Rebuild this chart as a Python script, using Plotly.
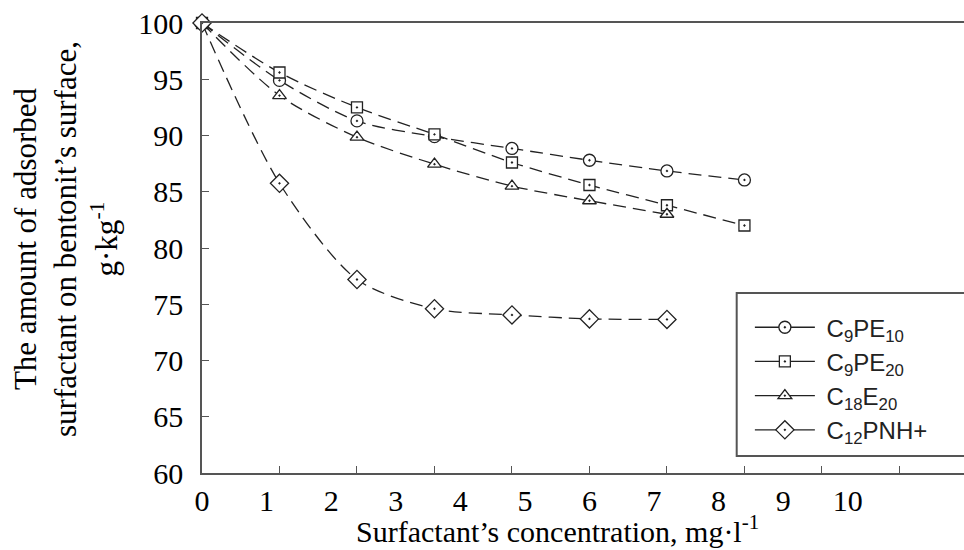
import plotly.graph_objects as go

# ---- data ----
conc = [0, 1.2, 2.4, 3.6, 4.8, 6.0, 7.2, 8.4]
c9pe10 = [100, 94.9, 91.3, 89.9, 88.85, 87.8, 86.85, 86.05]
c9pe20 = [100, 95.6, 92.5, 90.1, 87.6, 85.6, 83.8, 82.0]
c18e20 = [100, 93.55, 89.85, 87.45, 85.5, 84.2, 83.0]
c12pnh = [100, 85.75, 77.2, 74.6, 74.05, 73.7, 73.65]

series_names = ["C<sub>9</sub>PE<sub>10</sub>", "C<sub>9</sub>PE<sub>20</sub>",
                "C<sub>18</sub>E<sub>20</sub>", "C<sub>12</sub>PNH+"]
series_values = [c9pe10, c9pe20, c18e20, c12pnh]
symbols = ["circle-dot", "square-dot", "triangle-up-dot", "diamond-dot"]
marker_sizes = [12, 11, 12, 14]

x_label_vals = [0, 1, 2, 3, 4, 5, 6, 7, 8, 9, 10]
x_label_text = ["0", "1", "2", "3", "4", "5", "6", "7", "8", "9", "10"]
x_tick_marks = [1.2, 2.4, 3.6, 4.8, 6.0, 7.2, 8.4, 9.6, 10.8]
y_ticks = [60, 65, 70, 75, 80, 85, 90, 95, 100]

INK = "#222222"
AXIS = "#555555"
SERIF = "Liberation Serif"
SANS = "Liberation Sans"

fig = go.Figure()

# data traces (dashed, smoothed)
for name, vals, sym, ms in zip(series_names, series_values, symbols, marker_sizes):
    fig.add_trace(go.Scatter(
        x=conc[:len(vals)], y=vals, mode="lines+markers", name=name,
        showlegend=False, cliponaxis=False,
        line=dict(color=INK, width=1.3, dash="13px,7px", shape="spline", smoothing=0.8),
        marker=dict(symbol=sym, size=ms, color="white",
                    line=dict(color=INK, width=1.3)),
    ))

# legend entries (solid line samples)
for name, sym, ms in zip(series_names, symbols, marker_sizes):
    fig.add_trace(go.Scatter(
        x=[None], y=[None], mode="lines+markers", name="\u00a0" + name,
        line=dict(color=INK, width=1.3),
        marker=dict(symbol=sym, size=ms, color="white",
                    line=dict(color=INK, width=1.3)),
    ))

fig.update_layout(
    width=964, height=550, autosize=False,
    margin=dict(l=202, r=0, t=23, b=77),
    paper_bgcolor="white", plot_bgcolor="white",
    showlegend=True,
    legend=dict(x=0.719, y=0.373, xanchor="left", yanchor="top",
                bgcolor="rgba(0,0,0,0)", borderwidth=0,
                font=dict(family=SANS, size=24, color=INK),
                itemwidth=60, tracegroupgap=0),
    xaxis=dict(range=[0, 11.8], showgrid=False, zeroline=False,
               showline=True, linecolor=AXIS, linewidth=1.5, mirror=True,
               tickmode="array", tickvals=x_label_vals, ticktext=x_label_text,
               ticks="", ticklen=0, ticklabelstandoff=0,
               minor=dict(tickmode="array", tickvals=x_tick_marks, ticks="inside",
                          ticklen=7, tickwidth=1.3, tickcolor=AXIS, showgrid=False),
               tickfont=dict(family=SERIF, size=30, color="black")),
    yaxis=dict(range=[60, 100], showgrid=False, zeroline=False,
               showline=True, linecolor=AXIS, linewidth=1.5, mirror=False,
               tickmode="array", tickvals=y_ticks,
               ticks="inside", ticklen=7, tickwidth=1.3, tickcolor=AXIS,
               ticklabelstandoff=11,
               tickfont=dict(family=SERIF, size=30, color="black")),
    shapes=[dict(type="rect", xref="paper", yref="paper",
                 x0=0.7017, x1=1.02, y0=0.0378, y1=0.4,
                 line=dict(color=AXIS, width=2), fillcolor="rgba(0,0,0,0)")],
    annotations=[
        dict(text="Surfactant\u2019s concentration, mg\u00b7l<sup>-1</sup>",
             xref="paper", yref="paper", x=0.466, y=-0.125,
             xanchor="center", yanchor="middle", showarrow=False,
             font=dict(family=SERIF, size=30, color="black")),
        dict(text="The amount of adsorbed<br>surfactant on bentonit\u2019s surface,<br>g\u00b7kg<sup>-1</sup>",
             xref="paper", yref="paper", x=-0.1785, y=0.52,
             xanchor="center", yanchor="middle", showarrow=False, textangle=-90,
             font=dict(family=SERIF, size=31, color="black")),
    ],
)

fig.write_html("out.html")
